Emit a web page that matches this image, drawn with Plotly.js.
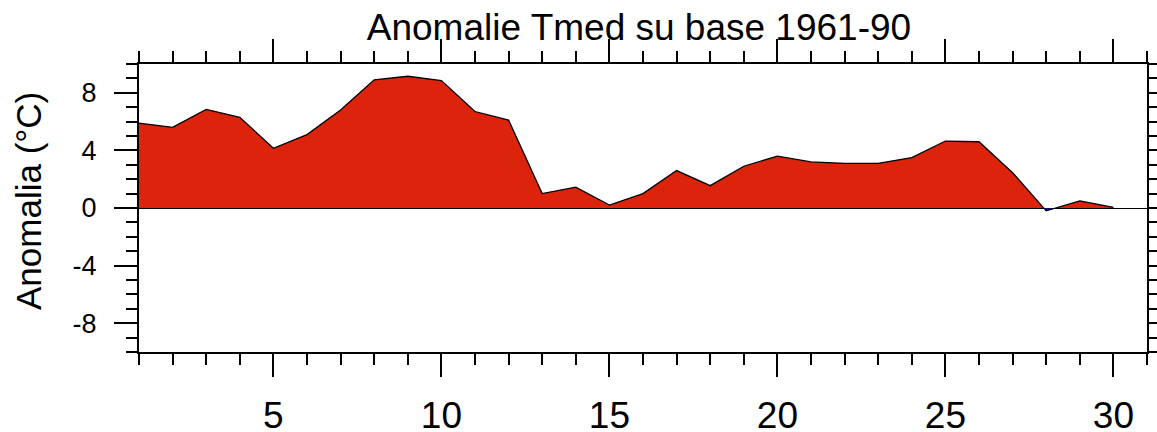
<!DOCTYPE html>
<html>
<head>
<meta charset="utf-8">
<script src="https://cdn.plot.ly/plotly-3.0.1.min.js"></script>
<style>
  html, body { margin: 0; padding: 0; background: #ffffff; }
  #chart { width: 1157px; height: 432px; }
</style>
</head>
<body>
<div id="chart"></div>
<script>
// ---- data ----
const days = [1, 2, 3, 4, 5, 6, 7, 8, 9, 10, 11, 12, 13, 14, 15,
              16, 17, 18, 19, 20, 21, 22, 23, 24, 25, 26, 27, 28, 29, 30];
const anomaly = [5.9, 5.6, 6.85, 6.3, 4.15, 5.1, 6.8, 8.9, 9.15, 8.85, 6.7, 6.1, 1.0, 1.45, 0.2,
                 1.0, 2.6, 1.55, 2.9, 3.6, 3.2, 3.1, 3.1, 3.5, 4.65, 4.6, 2.45, -0.2, 0.5, 0.05];
const xTickVals = [5, 10, 15, 20, 25, 30];
const yTickVals = [-8, -4, 0, 4, 8];
const titleText = 'Anomalie Tmed su base 1961-90';
const yTitleText = 'Anomalia (°C)';

// ---- split the curve at zero crossings for the two-colour fill ----
function splitFill(xs, ys) {
  const pos = {x: [], y: []}, neg = {x: [], y: []};
  for (let i = 0; i < xs.length; i++) {
    if (i > 0) {
      const y0 = ys[i - 1], y1 = ys[i];
      if ((y0 > 0 && y1 < 0) || (y0 < 0 && y1 > 0)) {
        const xc = xs[i - 1] + (xs[i] - xs[i - 1]) * (y0 / (y0 - y1));
        pos.x.push(xc); pos.y.push(0);
        neg.x.push(xc); neg.y.push(0);
      }
    }
    pos.x.push(xs[i]); pos.y.push(Math.max(ys[i], 0));
    neg.x.push(xs[i]); neg.y.push(Math.min(ys[i], 0));
  }
  return {pos, neg};
}
const parts = splitFill(days, anomaly);
const FONT = '"Liberation Sans", Arial, Helvetica, sans-serif';

const traces = [
  {x: parts.pos.x, y: parts.pos.y, type: 'scatter', mode: 'lines',
   fill: 'tozeroy', fillcolor: '#dc230b', line: {width: 0, color: 'rgba(0,0,0,0)'},
   hoverinfo: 'skip', showlegend: false},
  {x: parts.neg.x, y: parts.neg.y, type: 'scatter', mode: 'lines',
   fill: 'tozeroy', fillcolor: '#10108a', line: {width: 0, color: 'rgba(0,0,0,0)'},
   hoverinfo: 'skip', showlegend: false},
  {x: days, y: anomaly, type: 'scatter', mode: 'lines',
   line: {color: '#000000', width: 1.3}, showlegend: false, name: 'Anomalia'}
];

const layout = {
  width: 1157, height: 432,
  margin: {l: 139, r: 10, t: 64, b: 80, pad: 0},
  paper_bgcolor: '#ffffff', plot_bgcolor: '#ffffff',
  font: {family: FONT, color: '#000000'},
  title: {text: titleText, font: {size: 37, family: FONT, color: '#000000'},
          x: 0.496, xref: 'paper', xanchor: 'center', y: 0.9385, yref: 'container', yanchor: 'middle'},
  xaxis: {
    range: [1, 31], showgrid: false, zeroline: false,
    tickmode: 'array', tickvals: xTickVals, ticktext: xTickVals.map(String),
    ticks: 'outside', ticklen: 23, tickwidth: 2, tickcolor: '#000000',
    showline: true, linewidth: 2, linecolor: '#000000', mirror: 'allticks',
    tickfont: {size: 37, family: FONT, color: '#000000'},
    ticklabelstandoff: 7,
    minor: {dtick: 1, tick0: 0, ticks: 'outside', ticklen: 11, tickwidth: 2, tickcolor: '#000000', showgrid: false}
  },
  yaxis: {
    range: [-10, 10], showgrid: false,
    zeroline: true, zerolinecolor: '#000000', zerolinewidth: 1,
    tickmode: 'array', tickvals: yTickVals, ticktext: yTickVals.map(String),
    ticks: 'outside', ticklen: 23, tickwidth: 2, tickcolor: '#000000',
    showline: true, linewidth: 2, linecolor: '#000000', mirror: 'allticks',
    tickfont: {size: 27, family: FONT, color: '#000000'},
    ticklabelstandoff: 12,
    minor: {dtick: 1, tick0: 0, ticks: 'outside', ticklen: 11, tickwidth: 2, tickcolor: '#000000', showgrid: false},
    automargin: false
  },
  annotations: [{
    text: yTitleText, textangle: -90, showarrow: false,
    xref: 'paper', yref: 'paper', x: -0.1102, y: 0.524,
    xanchor: 'center', yanchor: 'middle',
    font: {size: 35, family: FONT, color: '#000000'}
  }]
};

Plotly.newPlot('chart', traces, layout, {staticPlot: true, displayModeBar: false});
</script>
</body>
</html>
